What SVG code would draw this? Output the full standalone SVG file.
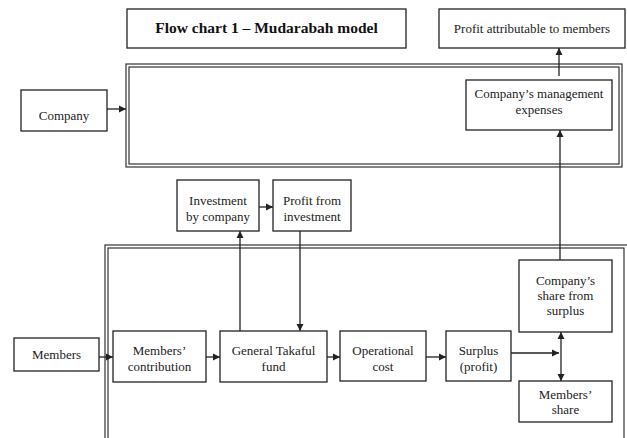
<svg xmlns="http://www.w3.org/2000/svg" width="627" height="438" viewBox="0 0 627 438">
<defs>
<marker id="ah" markerWidth="8" markerHeight="8" refX="7" refY="4" orient="auto" markerUnits="userSpaceOnUse">
<path d="M0,0.5 L7,4 L0,7.5 Z" fill="#222"/>
</marker>
<style>
.box{fill:#fff;stroke:#222;stroke-width:1.3}
.frame{fill:none;stroke:#333;stroke-width:1.2}
.t{font-family:"Liberation Serif",serif;font-size:13px;fill:#222;text-anchor:middle}
.title{font-family:"Liberation Serif",serif;font-size:15.5px;font-weight:bold;fill:#111;text-anchor:middle}
.c{fill:none;stroke:#222;stroke-width:1.3}
</style>
</defs>
<rect width="627" height="438" fill="#fff"/>
<g id="frames">
<rect class="frame" x="126" y="64" width="496" height="103"/>
<rect class="frame" x="129" y="67" width="490" height="97"/>
<rect class="frame" x="105" y="245" width="530" height="200"/>
<rect class="frame" x="108" y="248" width="516" height="200"/>
</g>
<g id="title"><rect class="box" x="127" y="9" width="279" height="39"/><text class="title" x="266.5" y="33">Flow chart 1 – Mudarabah model</text></g>
<g id="profit-attr"><rect class="box" x="439" y="9" width="186" height="39"/><text class="t" x="532" y="33">Profit attributable to members</text></g>
<g id="company"><rect class="box" x="21" y="90" width="86" height="41"/><text class="t" x="64" y="120">Company</text></g>
<g id="mgmt"><rect class="box" x="466" y="80" width="146" height="50"/><text class="t" x="539" y="98">Company’s management</text><text class="t" x="539" y="114">expenses</text></g>
<g id="invest"><rect class="box" x="177" y="180" width="82" height="51"/><text class="t" x="218" y="205">Investment</text><text class="t" x="218" y="221">by company</text></g>
<g id="profit-inv"><rect class="box" x="273" y="180" width="78" height="51"/><text class="t" x="312" y="205">Profit from</text><text class="t" x="312" y="221">investment</text></g>
<g id="members"><rect class="box" x="14" y="338" width="85" height="33"/><text class="t" x="56.5" y="359">Members</text></g>
<g id="contrib"><rect class="box" x="113" y="331" width="93" height="51"/><text class="t" x="159.5" y="355">Members’</text><text class="t" x="159.5" y="371">contribution</text></g>
<g id="gtf"><rect class="box" x="220" y="331" width="107" height="51"/><text class="t" x="273.5" y="355">General Takaful</text><text class="t" x="273.5" y="371">fund</text></g>
<g id="opcost"><rect class="box" x="340" y="331" width="86" height="50"/><text class="t" x="383" y="355">Operational</text><text class="t" x="383" y="371">cost</text></g>
<g id="surplus"><rect class="box" x="446" y="331" width="65" height="50"/><text class="t" x="478.5" y="355">Surplus</text><text class="t" x="478.5" y="371">(profit)</text></g>
<g id="co-share"><rect class="box" x="519" y="260" width="93" height="72"/><text class="t" x="565.5" y="285">Company’s</text><text class="t" x="565.5" y="300">share from</text><text class="t" x="565.5" y="315">surplus</text></g>
<g id="mem-share"><rect class="box" x="519" y="381" width="93" height="41"/><text class="t" x="565.5" y="399">Members’</text><text class="t" x="565.5" y="414">share</text></g>
<g id="connectors">
<line class="c" x1="107" y1="109" x2="126" y2="109" marker-end="url(#ah)"/>
<line class="c" x1="559" y1="76" x2="559" y2="48" marker-end="url(#ah)"/>
<line class="c" x1="560" y1="260" x2="560" y2="130" marker-end="url(#ah)"/>
<line class="c" x1="259" y1="207" x2="273" y2="207" marker-end="url(#ah)"/>
<line class="c" x1="240" y1="331" x2="240" y2="231" marker-end="url(#ah)"/>
<line class="c" x1="300" y1="231" x2="300" y2="331" marker-end="url(#ah)"/>
<line class="c" x1="99" y1="357" x2="113" y2="357" marker-end="url(#ah)"/>
<line class="c" x1="206" y1="357" x2="220" y2="357" marker-end="url(#ah)"/>
<line class="c" x1="327" y1="357" x2="340" y2="357" marker-end="url(#ah)"/>
<line class="c" x1="426" y1="357" x2="446" y2="357" marker-end="url(#ah)"/>
<line class="c" x1="511" y1="353" x2="559" y2="353" marker-end="url(#ah)"/>
<line class="c" x1="561" y1="356" x2="561" y2="332" marker-end="url(#ah)"/>
<line class="c" x1="561" y1="356" x2="561" y2="381" marker-end="url(#ah)"/>
</g>
</svg>
